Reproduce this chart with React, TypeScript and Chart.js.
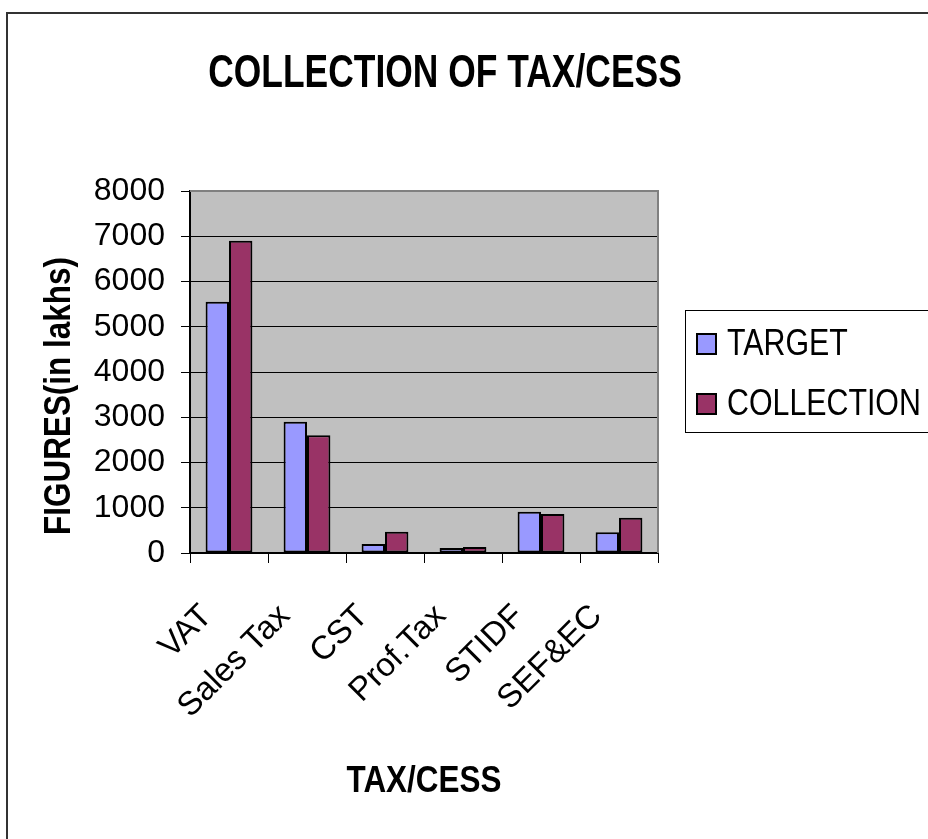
import React, { useEffect, useRef } from "react";
import { Chart, registerables } from "chart.js";

Chart.register(...registerables);

const categories = ["VAT", "Sales Tax", "CST", "Prof.Tax", "STIDF", "SEF&EC"];
const targetValues = [5550, 2900, 200, 110, 910, 460];
const collectionValues = [6900, 2600, 470, 130, 860, 780];
const seriesLabels = ["TARGET", "COLLECTION"];
const seriesColors = ["#9999FF", "#993366"];
const yMin = 0;
const yMax = 8000;
const yStep = 1000;
const chartTitle = "COLLECTION OF TAX/CESS";
const yTitle = "FIGURES(in lakhs)";
const xTitle = "TAX/CESS";

const REGULAR = "'Liberation Sans', Arial, sans-serif";

function narrowText(
  ctx: CanvasRenderingContext2D,
  text: string,
  x: number,
  y: number,
  sx: number,
  rot = 0
) {
  ctx.save();
  ctx.translate(x, y);
  if (rot) ctx.rotate(rot);
  ctx.scale(sx, 1);
  ctx.fillText(text, 0, 0);
  ctx.restore();
}

const decorPlugin = {
  id: "decor",
  beforeDraw(chart: any) {
    const { ctx, chartArea, width, height } = chart;
    ctx.save();
    ctx.fillStyle = "#ffffff";
    ctx.fillRect(0, 0, width, height);
    ctx.strokeStyle = "#333333";
    ctx.lineWidth = 2;
    ctx.beginPath();
    ctx.moveTo(7, height + 5);
    ctx.lineTo(7, 13);
    ctx.lineTo(width + 5, 13);
    ctx.stroke();
    ctx.fillStyle = "#C0C0C0";
    ctx.fillRect(
      chartArea.left,
      chartArea.top,
      chartArea.right - chartArea.left,
      chartArea.bottom - chartArea.top
    );
    ctx.restore();
  },
  afterDatasetsDraw(chart: any) {
    const { ctx, chartArea } = chart;
    ctx.save();
    ctx.strokeStyle = "#808080";
    ctx.lineWidth = 2;
    ctx.beginPath();
    ctx.moveTo(chartArea.left, chartArea.top);
    ctx.lineTo(chartArea.right, chartArea.top);
    ctx.lineTo(chartArea.right, chartArea.bottom);
    ctx.stroke();
    ctx.restore();
  },
  afterDraw(chart: any) {
    const { ctx, chartArea } = chart;
    ctx.save();
    ctx.fillStyle = "#000000";
    ctx.textAlign = "center";
    ctx.textBaseline = "alphabetic";
    ctx.font = `bold 46px ${REGULAR}`;
    narrowText(ctx, chartTitle, 445, 87, 0.77);
    ctx.font = `bold 37px ${REGULAR}`;
    narrowText(ctx, xTitle, (chartArea.left + chartArea.right) / 2, 792, 0.85);
    narrowText(ctx, yTitle, 70, 396, 0.85, -Math.PI / 2);

    // legend
    ctx.strokeStyle = "#000000";
    ctx.lineWidth = 1;
    ctx.strokeRect(685.5, 310.5, 300, 122);
    const ds = chart.data.datasets;
    const baselines = [355, 415];
    ctx.font = `37px ${REGULAR}`;
    ctx.textAlign = "left";
    ds.forEach((d: any, i: number) => {
      const b = baselines[i];
      ctx.fillStyle = d.backgroundColor;
      ctx.fillRect(697, b - 21, 19, 20);
      ctx.lineWidth = 2;
      ctx.strokeStyle = "#000000";
      ctx.strokeRect(697, b - 21, 19, 20);
      ctx.fillStyle = "#000000";
      narrowText(ctx, d.label, 727, b, 0.82);
    });
    ctx.restore();
  },
};

export default function App() {
  const ref = useRef<HTMLCanvasElement | null>(null);

  useEffect(() => {
    if (!ref.current) return;
    const chart = new Chart(ref.current, {
      type: "bar",
      data: {
        labels: categories,
        datasets: [
          {
            label: seriesLabels[0],
            data: targetValues,
            backgroundColor: seriesColors[0],
            borderColor: "#000000",
            borderWidth: 2,
            borderSkipped: false,
          },
          {
            label: seriesLabels[1],
            data: collectionValues,
            backgroundColor: seriesColors[1],
            borderColor: "#000000",
            borderWidth: 2,
            borderSkipped: false,
          },
        ],
      },
      options: {
        responsive: false,
        animation: false,
        layout: { padding: { top: 191, right: 270, bottom: 10, left: 10 } },
        datasets: {
          bar: { categoryPercentage: 0.6, barPercentage: 1.0 },
        },
        plugins: {
          legend: { display: false },
          title: { display: false },
          tooltip: { enabled: false },
        },
        scales: {
          x: {
            afterFit(scale: any) {
              scale.height = 276;
            },
            grid: {
              offset: true,
              drawOnChartArea: false,
              drawTicks: true,
              tickLength: 10,
              color: "#000000",
            },
            border: { color: "#000000", width: 2 },
            ticks: {
              autoSkip: false,
              maxRotation: 45,
              minRotation: 45,
              padding: 34,
              labelOffset: -22,
              color: "#000000",
              font: { family: REGULAR, size: 33 },
            },
          },
          y: {
            min: yMin,
            max: yMax,
            afterFit(scale: any) {
              scale.width = 180;
            },
            grid: {
              color: "#000000",
              lineWidth: 1,
              drawTicks: true,
              tickLength: 9,
            },
            border: { color: "#000000", width: 2 },
            ticks: {
              stepSize: yStep,
              padding: 16,
              color: "#000000",
              font: { family: REGULAR, size: 32 },
              callback: (v: any) => String(v),
            },
          },
        },
      },
      plugins: [decorPlugin],
    });
    return () => chart.destroy();
  }, []);

  return (
    <div style={{ position: "fixed", left: 0, top: 0, width: 928, height: 839 }}>
      <canvas ref={ref} width={928} height={839} />
    </div>
  );
}
